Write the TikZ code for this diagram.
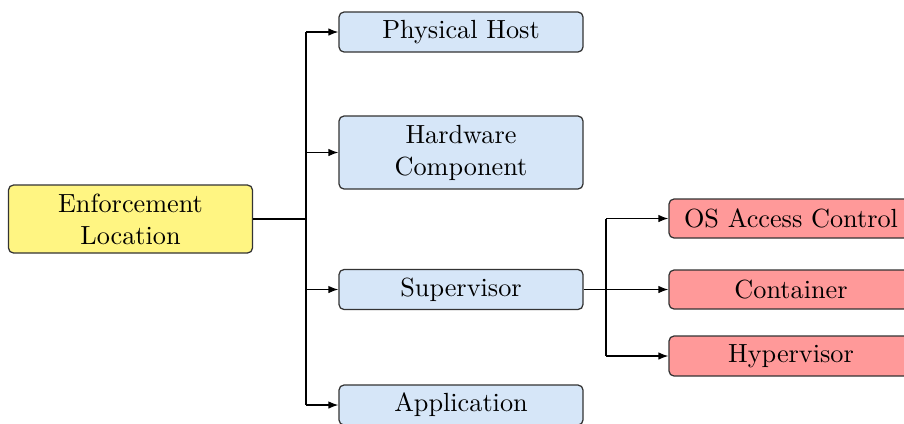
\documentclass[tikz,border=0pt]{standalone}
\usetikzlibrary{arrows.meta}
\definecolor{rootfill}{RGB}{255,245,130}
\definecolor{midfill}{RGB}{214,230,248}
\definecolor{leaffill}{RGB}{255,153,153}
\begin{document}
\begin{tikzpicture}[x=0.4pt,y=-0.4pt,
  font=\fontsize{10.5pt}{12.8pt}\selectfont,
  box/.style={draw=black!80, line width=0.5pt, rounded corners=2pt, align=center, inner sep=0pt, minimum width=97.6pt},
  rootbox/.style={box, fill=rootfill, minimum height=27.2pt},
  midbox/.style={box, fill=midfill, minimum height=16pt},
  leafbox/.style={box, fill=leaffill, minimum height=15.6pt},
  conn/.style={draw=black, line width=0.5pt, -{Latex[length=4pt,width=3pt]}},
  plain/.style={draw=black, line width=0.5pt}]
\useasboundingbox (0,0) rectangle (904,423);
\node[rootbox] (root) at (130.5,219) {Enforcement\\Location};
\node[midbox] (phys) at (461,32) {Physical Host};
\node[midbox, minimum height=29.2pt] (hw) at (461,152.5) {Hardware\\Component};
\node[midbox] (sup) at (461,289.5) {Supervisor};
\node[midbox] (app) at (461,405) {Application};
\node[leafbox] (os) at (791,218.5) {OS Access Control};
\node[leafbox] (cont) at (791,289.5) {Container};
\node[leafbox, minimum height=16pt] (hyp) at (791,356) {Hypervisor};
\coordinate (j1) at (306,219);
\coordinate (j2) at (606,289.5);
\draw[plain] (root.east) -- (j1);
\draw[plain] (j1 |- phys.west) -- (j1 |- app.west);
\foreach \c in {phys,hw,sup,app} \draw[conn] (j1 |- \c.west) -- (\c.west);
\draw[plain] (sup.east) -- (j2);
\draw[plain] (j2 |- os.west) -- (j2 |- hyp.west);
\foreach \c in {os,cont,hyp} \draw[conn] (j2 |- \c.west) -- (\c.west);
\end{tikzpicture}
\end{document}
